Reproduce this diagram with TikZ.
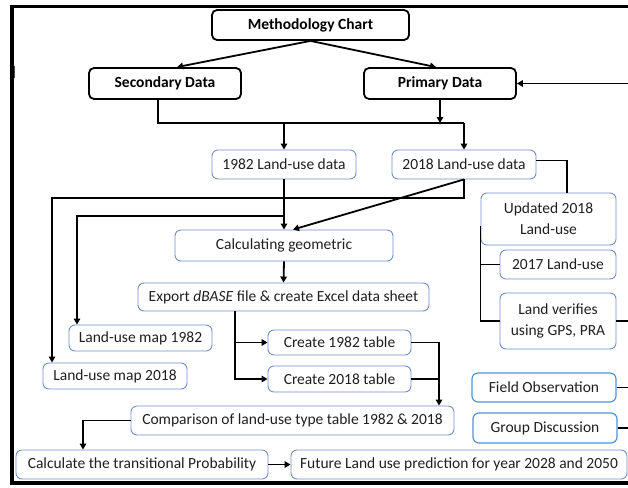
\documentclass[tikz,border=0pt]{standalone}
\usepackage{fontspec}
\setmainfont{Carlito}
\usetikzlibrary{arrows.meta}
\definecolor{bxblue}{HTML}{6F8FCB}
\definecolor{bxblue2}{HTML}{4F95D6}
\definecolor{txt}{HTML}{1F1F1F}
\tikzset{
  base/.style={rounded corners=6pt, inner sep=0pt, align=center, text=txt,
    font=\fontsize{15.5}{21}\selectfont},
  bluebox/.style={base, draw=bxblue, line width=0.9pt},
  brightbox/.style={base, draw=bxblue2, line width=1.2pt},
  blackbox/.style={base, draw=black, line width=1.8pt, rounded corners=5pt, text=black,
    font=\fontsize{15.5}{21}\selectfont\bfseries},
  wire/.style={draw=black, line width=1.8pt},
  arr/.style={wire, -{Triangle[length=6pt,width=6.5pt]}},
  sz/.style 2 args={minimum width=#1pt, minimum height=#2pt}
}
\begin{document}
\begin{tikzpicture}[x=1pt, y=-1pt]
\useasboundingbox (0,0) rectangle (628,487);
% frame
\draw[line width=3.5pt, line cap=rect] (628,6.5) -- (12,6.5) -- (12,483) -- (628,483);
\fill[black!70] (13.8,66) rectangle (15.3,78);

% nodes
\node[blackbox, sz={197}{30}] (mc) at (310.5,25) {Methodology Chart};
\node[blackbox, sz={152}{31}] (sd) at (165,83.5) {Secondary Data};
\node[blackbox, sz={152}{31}] (pd) at (440,83.5) {Primary Data};
\node[bluebox, sz={144}{29}] (d82) at (284,164.5) {1982 Land-use data};
\node[bluebox, sz={144}{29}] (d18) at (464,164.5) {2018 Land-use data};
\node[bluebox, sz={135}{52}] (up) at (548.5,219) {Updated 2018\\Land-use};
\node[bluebox, sz={116}{29}] (l17) at (558,264.5) {2017 Land-use};
\node[bluebox, sz={116}{56}] (lv) at (558,321) {Land verifies\\using GPS, PRA};
\node[bluebox, sz={218}{31}] (cg) at (284,245.5) {Calculating geometric};
\node[bluebox, sz={291}{28}] (ex) at (283.5,297) {Export \textit{dBASE} file \& create Excel data sheet};
\node[bluebox, sz={143}{26}] (m82) at (140.5,338) {Land-use map 1982};
\node[bluebox, sz={144}{26}] (m18) at (115,376) {Land-use map 2018};
\node[bluebox, sz={143}{25}] (t82) at (339.5,342.5) {Create 1982 table};
\node[bluebox, sz={143}{26}] (t18) at (339.5,379) {Create 2018 table};
\node[bluebox, sz={323}{29}] (cmp) at (292.5,420.5) {Comparison of land-use type table 1982 \& 2018};
\node[brightbox, sz={144}{29}] (fo) at (544,387.5) {Field Observation};
\node[brightbox, sz={144}{30}] (gd) at (545,428) {Group Discussion};
\node[bluebox, sz={252}{29}] (calc) at (142,464.5) {Calculate the transitional Probability};
\node[bluebox, sz={336}{29}] (fut) at (459,464.5) {Future Land use prediction for year 2028 and 2050};

% helper coordinates
\coordinate (bus) at (0,123);
\coordinate (redge) at (628,0);
\coordinate (c18) at (52,198);
\coordinate (c82) at (77,216);
\coordinate (cj) at ([xshift=146.5pt]cmp.north);

% connectors
\draw[arr] (mc.south) -- ([xshift=12pt]sd.north);
\draw[arr] (mc.south) -- ([xshift=-4pt]pd.north);
\draw[wire] ([xshift=-7pt]sd.south) |- (d18.north |- bus);
\draw[arr] (pd.south) -- (pd.south |- bus);
\draw[arr] (d82.north |- bus) -- (d82.north);
\draw[arr] (d18.north |- bus) -- (d18.north);
\draw[arr] (redge |- pd.east) -- (pd.east);

\draw[wire] ([yshift=4pt]d18.east) -| ([xshift=18.5pt]up.north);
\draw[wire] ([yshift=-7pt]up.west) |- (lv.west);
\draw[wire] (up.west |- l17.west) -- (l17.west);
\draw[wire] (lv.east) -- (lv.east -| redge);
\draw[wire] (fo.east) -- (fo.east -| redge);
\draw[wire] (gd.east) -- (gd.east -| redge);

\draw[arr] (d82.south) -- (cg.north);
\draw[arr] (d82.south |- c82) -- (c82) -- (c82 |- m82.north);
\draw[arr] (d18.south) |- (c18) -- (c18 |- m18.north);
\draw[arr] (d18.south) -- ([xshift=9pt]cg.north);

\draw[arr] (cg.south) -- (ex.north);
\draw[arr] ([xshift=-48.5pt]ex.south) |- (t82.west);
\draw[arr] ([xshift=-48.5pt]ex.south) |- (t18.west);

\draw[arr] (t82.east) -| (cj);
\draw[wire] (t18.east) -- (t18.east -| cj);

\draw[arr] (cmp.west) -| ([xshift=-59pt]calc.north);
\draw[arr] (calc.east) -- (fut.west);
\end{tikzpicture}
\end{document}
